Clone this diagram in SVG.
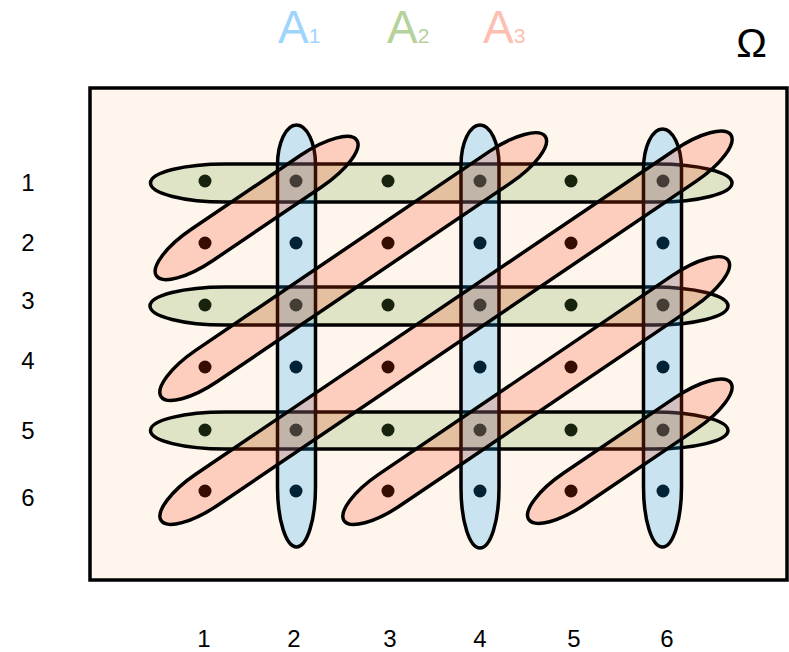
<svg xmlns="http://www.w3.org/2000/svg" width="789" height="652" viewBox="0 0 789 652">
<style>
text{font-family:"Liberation Sans",Arial,sans-serif;}
.num{font-size:24px;fill:#000;text-anchor:middle;}
.set{stroke:#000;stroke-width:3.5;fill-opacity:0.21;}
.g{fill:#72a53d;}
.b{fill:#09a0ff;}
.r{fill:#f93c10;}
.dot{fill:#000;}
</style>
<rect x="0" y="0" width="789" height="652" fill="#ffffff"/>
<g id="omega-set">
<rect x="90" y="88" width="697" height="492" fill="#fef5ec" stroke="#000" stroke-width="3.5"/>
</g>
<g id="points">
<circle class="dot" cx="205" cy="181" r="6.5"/><circle class="dot" cx="296" cy="181" r="6.5"/><circle class="dot" cx="388" cy="181" r="6.5"/><circle class="dot" cx="480" cy="181" r="6.5"/><circle class="dot" cx="571" cy="181" r="6.5"/><circle class="dot" cx="663" cy="181" r="6.5"/>
<circle class="dot" cx="205" cy="243" r="6.5"/><circle class="dot" cx="296" cy="243" r="6.5"/><circle class="dot" cx="388" cy="243" r="6.5"/><circle class="dot" cx="480" cy="243" r="6.5"/><circle class="dot" cx="571" cy="243" r="6.5"/><circle class="dot" cx="663" cy="243" r="6.5"/>
<circle class="dot" cx="205" cy="305" r="6.5"/><circle class="dot" cx="296" cy="305" r="6.5"/><circle class="dot" cx="388" cy="305" r="6.5"/><circle class="dot" cx="480" cy="305" r="6.5"/><circle class="dot" cx="571" cy="305" r="6.5"/><circle class="dot" cx="663" cy="305" r="6.5"/>
<circle class="dot" cx="205" cy="367" r="6.5"/><circle class="dot" cx="296" cy="367" r="6.5"/><circle class="dot" cx="388" cy="367" r="6.5"/><circle class="dot" cx="480" cy="367" r="6.5"/><circle class="dot" cx="571" cy="367" r="6.5"/><circle class="dot" cx="663" cy="367" r="6.5"/>
<circle class="dot" cx="205" cy="430" r="6.5"/><circle class="dot" cx="296" cy="430" r="6.5"/><circle class="dot" cx="388" cy="430" r="6.5"/><circle class="dot" cx="480" cy="430" r="6.5"/><circle class="dot" cx="571" cy="430" r="6.5"/><circle class="dot" cx="663" cy="430" r="6.5"/>
<circle class="dot" cx="205" cy="491" r="6.5"/><circle class="dot" cx="296" cy="491" r="6.5"/><circle class="dot" cx="388" cy="491" r="6.5"/><circle class="dot" cx="480" cy="491" r="6.5"/><circle class="dot" cx="571" cy="491" r="6.5"/><circle class="dot" cx="663" cy="491" r="6.5"/>
</g>
<g id="A2-sets">
<g id="A2-row1"><rect class="set g" x="150.5" y="164" width="581.5" height="38" rx="75" ry="19"/></g>
<g id="A2-row3"><rect class="set g" x="150" y="287" width="578" height="38" rx="75" ry="19"/></g>
<g id="A2-row5"><rect class="set g" x="150.5" y="412" width="577.5" height="37" rx="75" ry="18.5"/></g>
</g>
<g id="A1-sets">
<g id="A1-col2"><path class="set b" d="M277.5,165 A19,40 0 0 1 315.5,165 L315.5,487 A19,60 0 0 1 277.5,487 Z"/></g>
<g id="A1-col4"><path class="set b" d="M461,165 A19,40 0 0 1 499,165 L499,488 A19,60 0 0 1 461,488 Z"/></g>
<g id="A1-col6"><path class="set b" d="M643.5,169 A19,40 0 0 1 681.5,169 L681.5,487 A19,60 0 0 1 643.5,487 Z"/></g>
</g>
<g id="A3-sets">
<g id="A3-d1"><rect class="set r" x="-121" y="-19" width="242" height="38" rx="55" ry="19" transform="translate(256.6,208) rotate(-34.1)"/></g>
<g id="A3-d2"><rect class="set r" x="-232" y="-19" width="464" height="38" rx="55" ry="19" transform="translate(353.2,266.6) rotate(-34.1)"/></g>
<g id="A3-d3"><rect class="set r" x="-344" y="-19" width="688" height="38" rx="55" ry="19" transform="translate(446,327.7) rotate(-34.1)"/></g>
<g id="A3-d4"><rect class="set r" x="-232" y="-19" width="464" height="38" rx="55" ry="19" transform="translate(536.2,390.6) rotate(-34.1)"/></g>
<g id="A3-d5"><rect class="set r" x="-122" y="-19" width="244" height="38" rx="55" ry="19" transform="translate(629.8,451.2) rotate(-34.1)"/></g>
</g>
<g id="connectors"></g>
<g id="titles">
<text x="278" y="43" font-size="46" fill="#9fd5fc">A<tspan font-size="21">1</tspan></text>
<text x="387" y="43" font-size="46" fill="#b5d29b">A<tspan font-size="21">2</tspan></text>
<text x="483" y="43" font-size="46" fill="#fdbfb1">A<tspan font-size="21">3</tspan></text>
<text x="751.5" y="57" font-size="41" fill="#000" text-anchor="middle">Ω</text>
</g>
<g id="row-labels">
<text class="num" x="28" y="190.5">1</text>
<text class="num" x="28" y="250.5">2</text>
<text class="num" x="28" y="308.5">3</text>
<text class="num" x="28" y="368.5">4</text>
<text class="num" x="28" y="438.5">5</text>
<text class="num" x="28" y="505.5">6</text>
</g>
<g id="col-labels">
<text class="num" x="204" y="646.5">1</text>
<text class="num" x="294" y="646.5">2</text>
<text class="num" x="390" y="646.5">3</text>
<text class="num" x="480" y="646.5">4</text>
<text class="num" x="574" y="646.5">5</text>
<text class="num" x="667" y="646.5">6</text>
</g>
</svg>
